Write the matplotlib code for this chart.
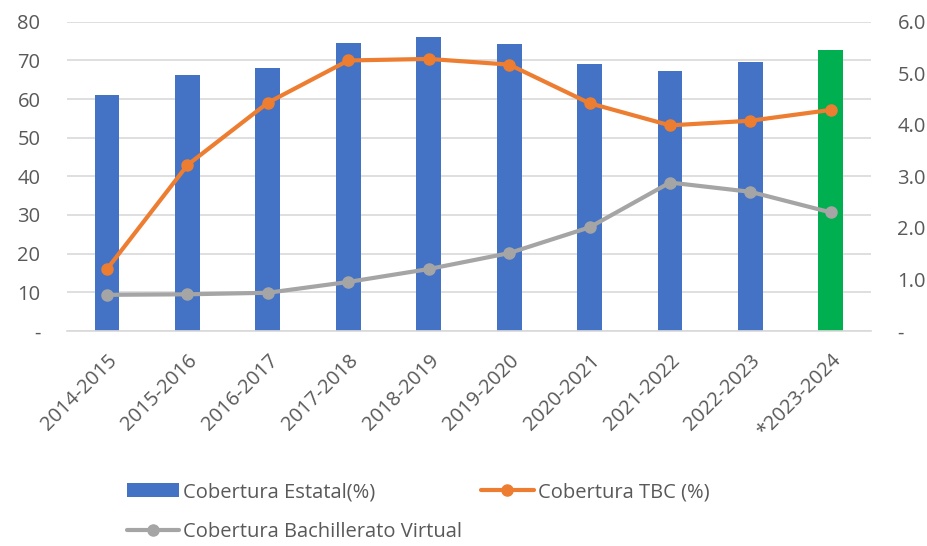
import matplotlib.pyplot as plt
from matplotlib.ticker import FixedLocator, FixedFormatter

plt.rcParams["font.family"] = ["Open Sans", "DejaVu Sans"]

years = ["2014-2015", "2015-2016", "2016-2017", "2017-2018", "2018-2019",
         "2019-2020", "2020-2021", "2021-2022", "2022-2023", "*2023-2024"]
estatal = [61.0, 66.3, 68.0, 74.5, 76.0, 74.3, 69.1, 67.4, 69.5, 72.8]
tbc = [1.20, 3.22, 4.43, 5.25, 5.28, 5.17, 4.42, 3.99, 4.08, 4.29]
virtual = [0.70, 0.71, 0.74, 0.95, 1.20, 1.51, 2.01, 2.88, 2.70, 2.30]

BLUE = "#4472C4"
GREEN = "#00B050"
ORANGE = "#ED7D31"
GRAY = "#A5A5A5"
TEXT = "#595959"

fig = plt.figure(figsize=(9.28, 5.46), dpi=100, facecolor="white")
ax = fig.add_axes([0.072, 0.394, 0.8666, 0.566])
ax2 = ax.twinx()

x = list(range(len(years)))
bar_colors = [BLUE] * (len(years) - 1) + [GREEN]
bars = ax.bar(x, estatal, width=0.31, color=bar_colors, zorder=2,
              label="Cobertura Estatal(%)")

l1, = ax2.plot(x, tbc, color=ORANGE, lw=3, marker="o", ms=8,
               solid_capstyle="round", label="Cobertura TBC (%)", zorder=3)
l2, = ax2.plot(x, virtual, color=GRAY, lw=3, marker="o", ms=8,
               solid_capstyle="round", label="Cobertura Bachillerato Virtual", zorder=3)

ax.set_xlim(-0.5, len(years) - 0.5)
ax.set_ylim(0, 80)
ax2.set_ylim(0, 6)

ax.yaxis.set_major_locator(FixedLocator(range(0, 81, 10)))
ax.yaxis.set_major_formatter(FixedFormatter(["-"] + [str(v) for v in range(10, 81, 10)]))
ax2.yaxis.set_major_locator(FixedLocator(range(0, 7)))
ax2.yaxis.set_major_formatter(FixedFormatter(["-"] + [f"{v:.1f}" for v in range(1, 7)]))

ax.grid(axis="y", color="#D9D9D9", lw=1.2, zorder=0)
ax.set_axisbelow(True)
for a in (ax, ax2):
    for s in a.spines.values():
        s.set_visible(False)
    a.tick_params(length=0, labelsize=14.5, colors=TEXT, pad=19)
ax.spines["bottom"].set_visible(True)
ax.spines["bottom"].set_color("#D9D9D9")
ax.spines["bottom"].set_linewidth(1.2)

ax.set_xticks(x)
ax.set_xticklabels(years, rotation=45, ha="right", va="top",
                   rotation_mode="anchor", fontsize=14.5)
ax.tick_params(axis="x", pad=14)

fig.legend(handles=[bars, l2, l1], ncol=2, loc="upper left",
           bbox_to_anchor=(0.117, 0.15), bbox_transform=fig.transFigure,
           frameon=False, fontsize=14.5, labelcolor=TEXT,
           handlelength=2.6, handletextpad=0.2, columnspacing=0.95,
           labelspacing=1.0)

fig.savefig("out.png", dpi=100, facecolor="white")
